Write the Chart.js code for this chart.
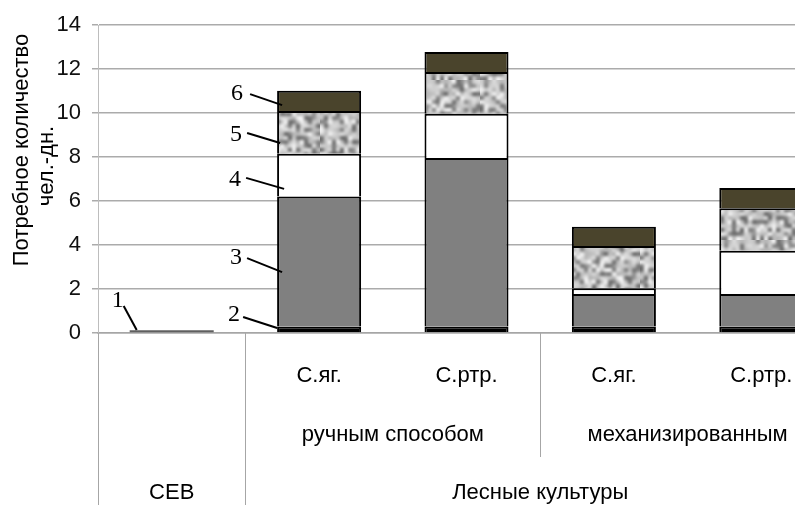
<!DOCTYPE html>
<html>
<head>
<meta charset="utf-8">
<script src="https://cdn.jsdelivr.net/npm/chart.js@4.4.1/dist/chart.umd.min.js"></script>
<style>
html,body{margin:0;padding:0;background:#fff;overflow:hidden;}
#wrap{width:835px;height:505px;}
</style>
</head>
<body>
<div id="wrap"><canvas id="c" width="835" height="505"></canvas></div>
<script>
// ---- data ----
const categories = ['СЕВ', 'С.яг.', 'С.ртр.', 'С.яг.', 'С.ртр.'];
const methodLabels = ['ручным способом', 'механизированным'];
const groupLabels = ['СЕВ', 'Лесные культуры'];
const seriesNames = ['1', '2', '3', '4', '5', '6'];
const s1 = [0.13, null, null, null, null];
const s2 = [null, 0.3, 0.3, 0.3, 0.3];
const s3 = [null, 5.9, 7.65, 1.47, 1.47];
const s4 = [null, 1.95, 2.02, 0.26, 1.97];
const s5 = [null, 1.94, 1.89, 1.92, 1.93];
const s6 = [null, 0.92, 0.91, 0.88, 0.92];
const yTicks = [0, 2, 4, 6, 8, 10, 12, 14];
const yTitle = ['Потребное количество', 'чел.-дн.'];

// ---- granite texture (style only) ----
function makeTexture() {
  const N = 20, S = 80;
  const n = document.createElement('canvas');
  n.width = N; n.height = N;
  const ng = n.getContext('2d');
  const img = ng.createImageData(N, N);
  let seed = 424242;
  const rnd = () => { seed = (seed * 1103515245 + 12345) & 0x7fffffff; return seed / 0x7fffffff; };
  for (let i = 0; i < N * N; i++) {
    const r = rnd();
    let v = 200 + (rnd() - 0.5) * 40;
    if (r < 0.3) v = 105 + rnd() * 45;
    else if (r < 0.42) v = 238;
    img.data[i * 4] = img.data[i * 4 + 1] = img.data[i * 4 + 2] = v;
    img.data[i * 4 + 3] = 255;
  }
  ng.putImageData(img, 0, 0);
  const p = document.createElement('canvas');
  p.width = S; p.height = S;
  const g = p.getContext('2d');
  g.imageSmoothingEnabled = true;
  g.imageSmoothingQuality = 'high';
  g.drawImage(n, 0, 0, S, S);
  return g.createPattern(p, 'repeat');
}
const ctx0 = document.getElementById('c').getContext('2d');
const texture = makeTexture();

const FONT = "'Liberation Sans', Arial, sans-serif";

// ---- numbered callouts: text, category index, value, endpoint dx from bar center, start dx, start dy, label dx, label dy
const callouts = [
  ['1', 0, 0.14, -35, -48, -24, -54, -29],
  ['2', 1, 0.23, -42, -76, -11, -85, -13],
  ['3', 1, 2.77, -37, -72, -14, -83, -14],
  ['4', 1, 6.55, -35, -73, -11, -84, -9],
  ['5', 1, 8.64, -39, -72, -10, -83, -8],
  ['6', 1, 10.36, -37, -69, -11, -82, -11]
];

const decor = {
  id: 'decor',
  afterDatasetsDraw(chart) {
    const { ctx, scales: { x, y } } = chart;
    ctx.save();
    ctx.strokeStyle = '#000';
    ctx.lineWidth = 2;
    ctx.fillStyle = '#000';
    ctx.font = "24px 'Liberation Serif', 'Times New Roman', serif";
    ctx.textAlign = 'center';
    ctx.textBaseline = 'middle';
    for (const c of callouts) {
      const ex = x.getPixelForValue(c[1]) + c[3];
      const ey = y.getPixelForValue(c[2]);
      ctx.beginPath();
      ctx.moveTo(ex + c[4] - c[3], ey + c[5]);
      ctx.lineTo(ex, ey);
      ctx.stroke();
      ctx.fillText(c[0], ex + c[6] - c[3], ey + c[7]);
    }
    ctx.restore();
  },
  afterDraw(chart) {
    const { ctx, chartArea: a, scales: { x, y } } = chart;
    const H = chart.height;
    const b = a.bottom;
    const mid = (i) => (x.getPixelForValue(i) + x.getPixelForValue(i + 1)) / 2;
    const step = x.getPixelForValue(1) - x.getPixelForValue(0);
    const rightEdge = x.getPixelForValue(categories.length - 1) + step / 2;
    ctx.save();
    ctx.strokeStyle = '#a6a6a6';
    ctx.lineWidth = 1;
    const seps = [[a.left, H], [mid(0), H], [mid(2), b + 124]];
    for (const [sx, ey] of seps) {
      ctx.beginPath();
      ctx.moveTo(Math.round(sx) + 0.5, b);
      ctx.lineTo(Math.round(sx) + 0.5, ey);
      ctx.stroke();
    }
    ctx.fillStyle = '#000';
    ctx.textAlign = 'center';
    ctx.textBaseline = 'middle';
    ctx.font = '22px ' + FONT;
    for (let i = 1; i < categories.length; i++) {
      ctx.fillText(categories[i], x.getPixelForValue(i), b + 43);
    }
    ctx.fillText(methodLabels[0], (mid(0) + mid(2)) / 2, b + 102);
    ctx.fillText(methodLabels[1], (mid(2) + rightEdge) / 2, b + 102);
    ctx.fillText(groupLabels[0], (a.left + mid(0)) / 2, b + 160);
    ctx.fillText(groupLabels[1], (mid(0) + rightEdge) / 2, b + 160);
    // y title
    ctx.font = '22px ' + FONT;
    const cy = (y.getPixelForValue(14) + y.getPixelForValue(0)) / 2;
    ctx.translate(22, cy);
    ctx.rotate(-Math.PI / 2);
    ctx.fillText(yTitle[0], 29, 0);
    ctx.fillText(yTitle[1], 13, 25);
    ctx.restore();
  }
};

const common = {
  borderColor: '#000',
  borderWidth: { top: 2, left: 2, right: 2, bottom: 0 },
  borderSkipped: false,
  stack: 'a'
};

new Chart(ctx0, {
  type: 'bar',
  data: {
    labels: categories,
    datasets: [
      { label: seriesNames[0], data: s1, backgroundColor: '#606060', borderWidth: 0, stack: 'a' },
      { ...common, label: seriesNames[1], data: s2, backgroundColor: '#000000' },
      { ...common, label: seriesNames[2], data: s3, backgroundColor: '#808080' },
      { ...common, label: seriesNames[3], data: s4, backgroundColor: '#ffffff' },
      { ...common, label: seriesNames[4], data: s5, backgroundColor: texture },
      { ...common, label: seriesNames[5], data: s6, backgroundColor: '#4a442c' }
    ]
  },
  options: {
    responsive: false,
    animation: false,
    devicePixelRatio: 1,
    layout: { padding: { top: 25, right: 0, left: 0, bottom: 0 } },
    datasets: { bar: { barPercentage: 0.57, categoryPercentage: 1.0 } },
    plugins: { legend: { display: false }, tooltip: { enabled: false } },
    scales: {
      x: {
        stacked: true,
        grid: { display: false },
        border: { display: true, color: '#a6a6a6', width: 1.5 },
        ticks: { display: false },
        afterFit(s) { s.height = 172; }
      },
      y: {
        stacked: true,
        min: 0, max: 14,
        afterBuildTicks(s) { s.ticks = yTicks.map(v => ({ value: v })); },
        ticks: { font: { size: 22, family: FONT }, color: '#111', padding: 11 },
        grid: { color: '#ababab', lineWidth: 1.5, tickLength: 6, drawTicks: true },
        border: { display: true, color: '#bdbdbd', width: 1 },
        afterFit(s) { s.width = 98; }
      }
    }
  },
  plugins: [decor]
});
</script>
</body>
</html>
